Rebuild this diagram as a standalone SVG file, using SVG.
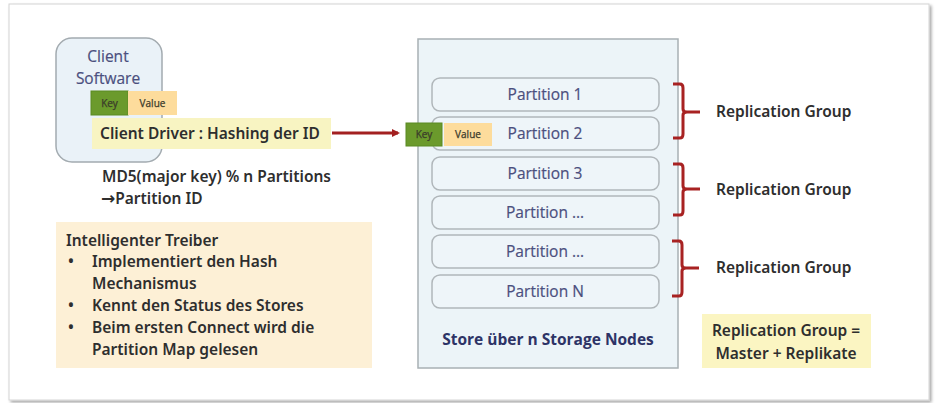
<svg xmlns="http://www.w3.org/2000/svg" width="939" height="403" viewBox="0 0 939 403">
  <defs>
    <marker id="arrowhead" markerWidth="8" markerHeight="8" refX="6" refY="4" orient="auto" markerUnits="userSpaceOnUse" viewBox="0 0 8 8">
      <path d="M0,0 L8,4 L0,8 Z" fill="#a32020"/>
    </marker>
    <filter id="shadow" x="-5%" y="-5%" width="110%" height="110%">
      <feDropShadow dx="2" dy="2" stdDeviation="1.5" flood-color="#000" flood-opacity="0.35"/>
    </filter>
  </defs>
  <style>
    text { font-family: "Open Sans", "Liberation Sans", Arial, sans-serif; }
    .frame { fill: #ffffff; stroke: #d4d4d4; stroke-width: 1; }
    .client { fill: #eaf2f8; stroke: #a3abb0; stroke-width: 1.5; }
    .store { fill: #ecf4f8; stroke: #a8b0b4; stroke-width: 1.5; }
    .part { fill: #eef5f9; stroke: #b0b6ba; stroke-width: 1.5; }
    .key { fill: #6b9a2c; stroke: #5b8a22; stroke-width: 1; }
    .value { fill: #fddc9c; }
    .small { font-size: 10px; fill: #3a3a2a; stroke: #3a3a2a; stroke-width: 0.25; text-anchor: middle; }
    .blue { font-size: 15.5px; fill: #4b4f7e; stroke: #4b4f7e; stroke-width: 0.2; text-anchor: middle; }
    .dark { font-family: "Noto Sans", "Open Sans", sans-serif; font-size: 15.5px; font-weight: 600; fill: #2e2e2e; }
    .arrowglyph { font-family: "DejaVu Sans", sans-serif; font-size: 17px; font-weight: bold; }
    .brace { fill: none; stroke: #a82222; stroke-width: 3; stroke-linejoin: round; }
    .conn { stroke: #a32020; stroke-width: 3; fill: none; }
  </style>

  <!-- outer slide frame -->
  <rect class="frame" x="9" y="4" width="920" height="396" filter="url(#shadow)"/>

  <!-- client software -->
  <g id="client-software">
    <rect class="client" x="56" y="38" width="106" height="124" rx="16"/>
    <text class="blue" x="108" y="62">Client</text>
    <text class="blue" x="108" y="84">Software</text>
    <rect class="key" x="91" y="91" width="37" height="24"/>
    <text class="small" x="109.5" y="107">Key</text>
    <rect class="value" x="128" y="91" width="49" height="24"/>
    <text class="small" x="152.5" y="107">Value</text>
  </g>

  <!-- client driver -->
  <g id="client-driver">
    <rect x="92" y="118" width="239" height="31" fill="#f8f4c2"/>
    <text class="dark" x="100" y="139">Client Driver : Hashing der ID</text>
  </g>

  <!-- hashing rule -->
  <g id="hash-note">
    <text class="dark" x="102" y="182">MD5(major key) % n Partitions</text>
    <text class="dark" x="101" y="204"><tspan class="arrowglyph">→</tspan>Partition ID</text>
  </g>

  <!-- driver notes -->
  <g id="driver-notes">
    <rect x="56" y="222" width="316" height="146" fill="#fdf0d6"/>
    <text class="dark" x="66" y="246">Intelligenter Treiber</text>
    <text class="dark" x="68" y="267">•</text>
    <text class="dark" x="92" y="267">Implementiert den Hash</text>
    <text class="dark" x="92" y="289">Mechanismus</text>
    <text class="dark" x="68" y="311">•</text>
    <text class="dark" x="92" y="311">Kennt den Status des Stores</text>
    <text class="dark" x="68" y="333">•</text>
    <text class="dark" x="92" y="333">Beim ersten Connect wird die</text>
    <text class="dark" x="92" y="355">Partition Map gelesen</text>
  </g>

  <!-- store -->
  <g id="store">
    <rect class="store" x="418" y="39" width="260" height="329"/>
    <text x="548" y="345" font-size="15.5" font-weight="bold" fill="#2d3366" text-anchor="middle">Store über n Storage Nodes</text>
  </g>

  <g id="partition-1">
    <rect class="part" x="432" y="78" width="227" height="33" rx="8"/>
    <text class="blue" x="545" y="100">Partition 1</text>
  </g>
  <g id="partition-2">
    <rect class="part" x="432" y="117" width="227" height="33" rx="8"/>
    <text class="blue" x="545" y="139">Partition 2</text>
    <rect class="key" x="406" y="123" width="36" height="23"/>
    <text class="small" x="424" y="138">Key</text>
    <rect class="value" x="444" y="123" width="48" height="23"/>
    <text class="small" x="468" y="138">Value</text>
  </g>
  <g id="partition-3">
    <rect class="part" x="432" y="157" width="227" height="33" rx="8"/>
    <text class="blue" x="545" y="179">Partition 3</text>
  </g>
  <g id="partition-4">
    <rect class="part" x="432" y="196" width="227" height="33" rx="8"/>
    <text class="blue" x="545" y="218">Partition …</text>
  </g>
  <g id="partition-5">
    <rect class="part" x="432" y="235" width="227" height="33" rx="8"/>
    <text class="blue" x="545" y="257">Partition …</text>
  </g>
  <g id="partition-n">
    <rect class="part" x="432" y="275" width="227" height="33" rx="8"/>
    <text class="blue" x="545" y="297">Partition N</text>
  </g>

  <!-- replication groups -->
  <g id="replication-group-1">
    <path class="brace" d="M673,84 H680 Q683,84 683,88 V109 Q683,112 687,112 H700 M687,112 Q683,112 683,115 V134 Q683,138 680,138 H673"/>
    <text class="dark" x="716" y="117">Replication Group</text>
  </g>
  <g id="replication-group-2">
    <path class="brace" d="M673,164 H680 Q683,164 683,168 V186 Q683,189 687,189 H700 M687,189 Q683,189 683,192 V211 Q683,215 680,215 H673"/>
    <text class="dark" x="716" y="195">Replication Group</text>
  </g>
  <g id="replication-group-3">
    <path class="brace" d="M672,241 H679 Q682,241 682,245 V265 Q682,268 686,268 H699 M686,268 Q682,268 682,271 V292 Q682,296 679,296 H672"/>
    <text class="dark" x="716" y="273">Replication Group</text>
  </g>

  <g id="replication-legend">
    <rect x="702" y="314" width="169" height="54" fill="#fbf5c2"/>
    <text class="dark" x="786" y="336" text-anchor="middle">Replication Group =</text>
    <text class="dark" x="786" y="359" text-anchor="middle">Master + Replikate</text>
  </g>

  <!-- connectors -->
  <g id="connectors">
    <line class="conn" x1="332" y1="133" x2="398" y2="133" marker-end="url(#arrowhead)"/>
  </g>
</svg>
